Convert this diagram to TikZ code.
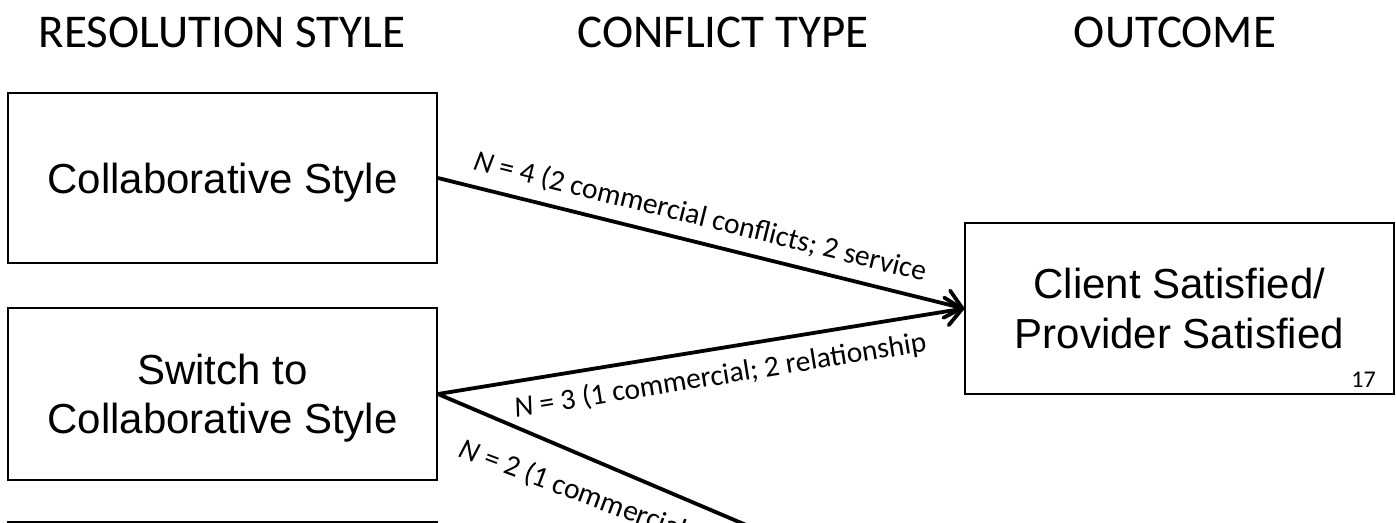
\documentclass[tikz,border=0pt]{standalone}
\usepackage{fontspec}
\setmainfont{Carlito}
\newfontfamily\boxfont{Liberation Sans}
\usetikzlibrary{arrows.meta}

\begin{document}
\begin{tikzpicture}[
  x=1pt,
  y=-1pt,
  every node/.style={black},
  heading/.style={anchor=base, inner sep=0pt, font=\fontsize{47}{56}\selectfont},
  stylebox/.style={draw, line width=1.8pt, minimum width=429pt, minimum height=170pt,
    inner sep=0pt, align=center, text depth=0pt, font=\boxfont\fontsize{42}{49.5}\selectfont},
  flow/.style={line width=3.8pt, -{Straight Barb[length=16pt, width=28pt, round]}},
  flowlabel/.style={sloped, inner sep=0pt, outer xsep=0pt, font=\fontsize{29.5}{35}\selectfont},
  pagenum/.style={anchor=base east, inner sep=0pt, font=\fontsize{24}{29}\selectfont}
]
  % ---- page frame ----
  \useasboundingbox (0,0) rectangle (1396,522);
  \clip (0,0) rectangle (1396,522);

  % ---- column headings ----
  \node[heading] (hdstyle) at (222,47) {RESOLUTION STYLE};
  \node[heading] (hdtype) at (723,47) {CONFLICT TYPE};
  \node[heading] (hdout) at (1175,47) {OUTCOME};

  % ---- resolution styles ----
  \node[stylebox] (collab) at (222.5,178) {Collaborative Style};
  \node[stylebox, minimum height=172pt] (switch) at (222.5,394) {Switch to\\Collaborative Style};
  \node[stylebox] (third) at (222.5,607) {};

  % ---- outcome ----
  \node[stylebox, minimum height=171pt] (outcome) at (1179.5,308.5) {Client Satisfied/\\Provider Satisfied};
  \node[pagenum] (slideno) at (1376,387) {17};
  \coordinate (lowerout) at (965,618);

  % ---- flows ----
  \draw[flow] (collab.east) -- (outcome.west)
    node[flowlabel, pos=0.058, anchor=south west, outer ysep=12.5pt]
      {\textit{N} = 4 (2 commercial conflicts; 2 service};
  \draw[flow] (switch.east) -- (outcome.west)
    node[flowlabel, pos=0.137, anchor=north west, outer ysep=14.5pt]
      {\textit{N} = 3 (1 commercial; 2 relationship};
  % label sits a little flatter than its line
  \draw[flow] (switch.east) -- (lowerout)
    node[flowlabel, rotate=2.5, pos=0.071, anchor=north west, outer ysep=28pt]
      {\textit{N} = 2 (1 commercial};
\end{tikzpicture}
\end{document}
